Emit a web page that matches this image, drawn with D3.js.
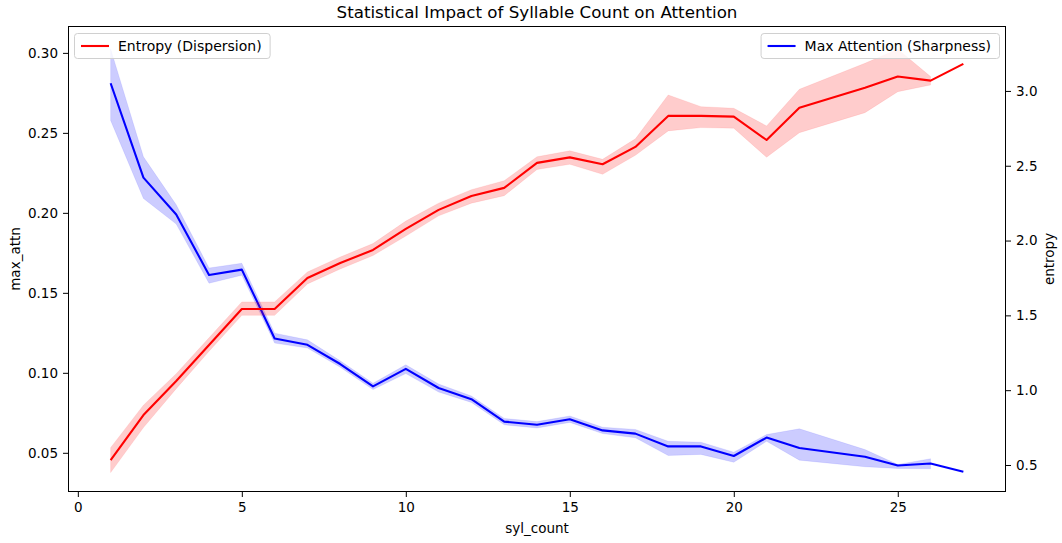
<!DOCTYPE html>
<html>
<head>
<meta charset="utf-8">
<script src="https://cdn.jsdelivr.net/npm/d3@7"></script>
<style>
  html, body { margin: 0; padding: 0; background: #fff; }
  svg { display: block; font-family: "DejaVu Sans", sans-serif; }
</style>
</head>
<body>
<svg id="chart" width="1062" height="543"></svg>
<script>
// ---- Data ----
const sylCount = [1,2,3,4,5,6,7,8,9,10,11,12,13,14,15,16,17,18,19,20,21,22,24,25,26,27];

const maxAttnMean = [0.281,0.222,0.199,0.1612,0.1645,0.1215,0.1175,0.1055,0.0915,0.1025,0.0905,0.0835,0.0695,0.0675,0.071,0.064,0.062,0.054,0.054,0.048,0.0595,0.053,0.0475,0.0421,0.0433,0.0382];
const maxAttnLo   = [0.2578,0.209,0.193,0.156,0.161,0.1186,0.1155,0.1035,0.0895,0.0995,0.088,0.0815,0.0675,0.0655,0.069,0.062,0.0594,0.0483,0.049,0.0441,0.0572,0.0454,0.0413,0.0402,0.040,null];
const maxAttnHi   = [0.3025,0.235,0.205,0.1655,0.1685,0.1248,0.1206,0.1075,0.0935,0.105,0.093,0.0855,0.0715,0.0695,0.073,0.066,0.0646,0.0572,0.0566,0.0504,0.0614,0.065,0.052,0.0427,0.0463,null];

const entropyMean = [0.533,0.834,1.061,1.302,1.543,1.543,1.75,1.85,1.937,2.078,2.205,2.298,2.352,2.519,2.556,2.51,2.626,2.833,2.833,2.828,2.672,2.888,3.022,3.096,3.069,3.181];
const entropyLo   = [0.449,0.75,1.01,1.26,1.50,1.50,1.71,1.81,1.90,2.03,2.165,2.25,2.30,2.475,2.51,2.443,2.57,2.733,2.755,2.751,2.557,2.721,2.855,2.995,3.040,null];
const entropyHi   = [0.616,0.90,1.11,1.35,1.59,1.59,1.79,1.89,1.98,2.13,2.25,2.34,2.40,2.56,2.60,2.543,2.68,2.973,2.895,2.884,2.766,3.011,3.185,3.279,3.096,null];

const xTicks = [0,5,10,15,20,25];
const leftTicks = [0.05,0.10,0.15,0.20,0.25,0.30];
const rightTicks = [0.5,1.0,1.5,2.0,2.5,3.0];

const titleText = "Statistical Impact of Syllable Count on Attention";
const xLabel = "syl_count";
const leftLabel = "max_attn";
const rightLabel = "entropy";
const entropyName = "Entropy (Dispersion)";
const attnName = "Max Attention (Sharpness)";

// ---- Layout ----
const W = 1062, H = 543;
const m = {left: 68, right: 1006, top: 26, bottom: 492};
const svg = d3.select("#chart");

const x = d3.scaleLinear().domain([-0.3, 28.3]).range([m.left, m.right]);
const yL = d3.scaleLinear().domain([0.0255, 0.3168]).range([m.bottom, m.top]);
const yR = d3.scaleLinear().domain([0.3195, 3.434]).range([m.bottom, m.top]);

const RED = "#ff0000", BLUE = "#0000ff";

svg.append("defs").append("clipPath").attr("id","clip")
  .append("rect").attr("x", m.left).attr("y", m.top)
  .attr("width", m.right - m.left).attr("height", m.bottom - m.top);

const plot = svg.append("g").attr("clip-path","url(#clip)");

const attnRows = sylCount.map((s,i)=>({x:s, m:maxAttnMean[i], lo:maxAttnLo[i], hi:maxAttnHi[i]}));
const entRows = sylCount.map((s,i)=>({x:s, m:entropyMean[i], lo:entropyLo[i], hi:entropyHi[i]}));

function band(y){ return d3.area().defined(d=>d.lo!=null).x(d=>x(d.x)).y0(d=>y(d.lo)).y1(d=>y(d.hi)); }
function line(y){ return d3.line().x(d=>x(d.x)).y(d=>y(d.m)); }

// max_attn on left axis (drawn first)
plot.append("path").datum(attnRows).attr("d", band(yL)).attr("fill", BLUE).attr("fill-opacity", 0.2).attr("stroke", BLUE).attr("stroke-opacity",0.08);
plot.append("path").datum(attnRows).attr("d", line(yL)).attr("fill","none").attr("stroke", BLUE).attr("stroke-width", 2.1).attr("stroke-linejoin","round");

// entropy on right axis
plot.append("path").datum(entRows).attr("d", band(yR)).attr("fill", RED).attr("fill-opacity", 0.2).attr("stroke", RED).attr("stroke-opacity",0.08);
plot.append("path").datum(entRows).attr("d", line(yR)).attr("fill","none").attr("stroke", RED).attr("stroke-width", 2.1).attr("stroke-linejoin","round");

// ---- Axes ----
const fs = 13.5;
const gx = svg.append("g").attr("transform", `translate(0,${m.bottom})`)
  .call(d3.axisBottom(x).tickValues(xTicks).tickFormat(d3.format("d")).tickSizeOuter(0).tickSize(5).tickPadding(5));
const gl = svg.append("g").attr("transform", `translate(${m.left},0)`)
  .call(d3.axisLeft(yL).tickValues(leftTicks).tickFormat(d3.format(".2f")).tickSizeOuter(0).tickSize(5).tickPadding(5));
const gr = svg.append("g").attr("transform", `translate(${m.right},0)`)
  .call(d3.axisRight(yR).tickValues(rightTicks).tickFormat(d3.format(".1f")).tickSizeOuter(0).tickSize(5).tickPadding(5));
[gx, gl, gr].forEach(g=>{
  g.selectAll(".domain").remove();
  g.selectAll("line").attr("stroke","#000").attr("stroke-width",1);
  g.selectAll("text").attr("font-size", fs).attr("fill","#000").attr("font-family","DejaVu Sans, sans-serif");
});

// frame
svg.append("rect").attr("x", m.left+0.5).attr("y", m.top+0.5)
  .attr("width", m.right - m.left - 1).attr("height", m.bottom - m.top - 1)
  .attr("fill","none").attr("stroke","#000").attr("stroke-width",1);

// labels
svg.append("text").attr("x", (m.left+m.right)/2).attr("y", 18).attr("text-anchor","middle")
  .attr("font-size", 16.7).text(titleText);
svg.append("text").attr("x", (m.left+m.right)/2).attr("y", 533).attr("text-anchor","middle")
  .attr("font-size", fs).text(xLabel);
svg.append("text").attr("transform", `translate(20,${(m.top+m.bottom)/2}) rotate(-90)`).attr("text-anchor","middle")
  .attr("font-size", fs).text(leftLabel);
svg.append("text").attr("transform", `translate(1054,${(m.top+m.bottom)/2}) rotate(-90)`).attr("text-anchor","middle")
  .attr("font-size", fs).text(rightLabel);

// ---- Legends ----
const lfs = 14;
function legend(xLeft, anchorRight, label, color){
  const g = svg.append("g");
  const t = g.append("text").attr("font-size", lfs).attr("y", 51).text(label);
  const tw = t.node().getComputedTextLength();
  const boxW = 8 + 28 + 9 + tw + 7;
  const bx = anchorRight ? xLeft - boxW : xLeft;
  g.insert("rect", "text").attr("x", bx+0.5).attr("y", 33.5).attr("width", boxW).attr("height", 25)
    .attr("rx", 3).attr("fill", "#fff").attr("fill-opacity", 0.8).attr("stroke", "#d0d0d0").attr("stroke-width", 1);
  g.append("line").attr("x1", bx+7).attr("x2", bx+35).attr("y1", 46).attr("y2", 46)
    .attr("stroke", color).attr("stroke-width", 2.1);
  t.attr("x", bx + 44);
}
legend(74, false, entropyName, RED);
legend(999, true, attnName, BLUE);
</script>
</body>
</html>
